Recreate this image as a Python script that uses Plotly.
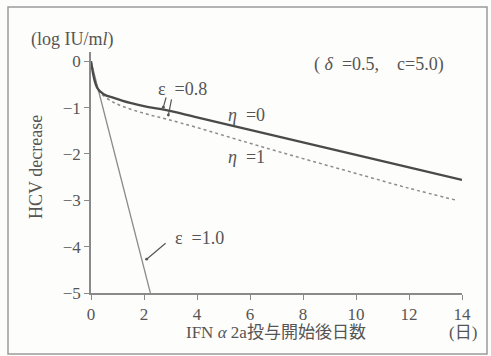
import plotly.graph_objects as go

# ---- data ----
days_eta0 = [0, 0.23, 0.48, 0.86, 1.48, 2.17, 2.8, 4, 6, 8, 10, 12, 14]
logv_eta0 = [0, -0.57, -0.71, -0.79, -0.90, -0.99, -1.05, -1.21, -1.48, -1.75, -2.02, -2.29, -2.56]

days_eta1 = [0, 0.23, 0.29, 0.86, 1.48, 2.17, 2.87, 4, 6, 8, 10, 12, 13.8]
logv_eta1 = [0, -0.57, -0.65, -0.89, -1.03, -1.15, -1.25, -1.43, -1.77, -2.10, -2.42, -2.74, -3.0]

days_eps1 = [0, 2.24]
logv_eps1 = [0, -5]

x_ticks = [0, 2, 4, 6, 8, 10, 12, 14]
y_ticks = [0, -1, -2, -3, -4, -5]
y_ticktext = ["0", "−1", "−2", "−3", "−4", "−5"]

SERIF = "Liberation Serif, DejaVu Serif, serif"
CJK = "Liberation Serif, Noto Sans CJK JP, serif"
TXT = "#555555"
AX = "#8a8a8a"
FS = 17

W, H = 491, 356
ml, mr, mt, mb = 91, 29, 52, 63

def px(xp, yp):
    return (xp - ml) / (W - ml - mr), 1 - (yp - mt) / (H - mt - mb)

fig = go.Figure()
fig.add_trace(go.Scatter(x=days_eps1, y=logv_eps1, mode="lines",
                         line=dict(color="#8c8c8c", width=1.3), showlegend=False))
fig.add_trace(go.Scatter(x=days_eta1, y=logv_eta1, mode="lines", line_shape="spline",
                         line=dict(color="#8c8c8c", width=1.5, dash="dot"), showlegend=False))
fig.add_trace(go.Scatter(x=days_eta0, y=logv_eta0, mode="lines", line_shape="spline",
                         line=dict(color="#4a4a4a", width=2.3), showlegend=False))

ann = []

def txt(x, y, s, size=18, font=SERIF):
    ann.append(dict(x=x, y=y, xref="x", yref="y", text=s, showarrow=False,
                    xanchor="center", yanchor="middle",
                    font=dict(family=font, size=size, color=TXT)))

def ptxt(xp, yp, s, size=FS, font=SERIF, angle=0):
    x, y = px(xp, yp)
    ann.append(dict(x=x, y=y, xref="paper", yref="paper", text=s, showarrow=False,
                    xanchor="center", yanchor="middle", textangle=angle,
                    font=dict(family=font, size=size, color=TXT)))

def arrow(x, y, ax, ay):
    ann.append(dict(x=x, y=y, ax=ax, ay=ay, xref="x", yref="y", axref="x", ayref="y",
                    text="", showarrow=True, arrowhead=6, arrowsize=0.6,
                    arrowwidth=1.2, arrowcolor="#555555"))

txt(3.45, -0.59, "ε  =0.8")
txt(5.85, -1.16, "<i>η</i>  =0")
txt(5.85, -2.06, "<i>η</i>  =1")
txt(10.85, -0.08, "( <i>δ</i>  =0.5,    c=5.0)")
txt(4.1, -3.81, "ε  =1.0")

arrow(2.73, -0.99, 2.85, -0.75)
arrow(2.92, -1.16, 3.05, -0.79)
arrow(2.1, -4.27, 2.87, -3.9)

ptxt(72, 40, "(log IU/m<i>l</i>)", size=18)
ptxt(36, 167, "HCV decrease", size=18, angle=-90)
ptxt(276, 332, "IFN <i>α</i> 2a投与開始後日数", font=CJK)
ptxt(463, 332, "(日)", font=CJK)

x0, y0 = px(8, 7)
x1, y1 = px(487, 354)
fig.update_layout(
    annotations=ann,
    shapes=[dict(type="rect", xref="paper", yref="paper", x0=x0, y0=y1, x1=x1, y1=y0,
                 line=dict(color="#9a9a9a", width=1.5))],
    width=W, height=H,
    margin=dict(l=ml, r=mr, t=mt, b=mb, pad=0),
    paper_bgcolor="#fdfdfc", plot_bgcolor="#fdfdfc",
    xaxis=dict(range=[0, 14], tickvals=x_ticks, ticks="outside", ticklen=5,
               tickcolor=AX, showline=True, linecolor=AX, linewidth=1.5,
               showgrid=False, zeroline=False,
               tickfont=dict(family=SERIF, size=FS, color=TXT)),
    yaxis=dict(range=[-5, 0.2], tickvals=y_ticks, ticktext=y_ticktext, ticks="outside",
               ticklen=5, tickcolor=AX, showline=True, linecolor=AX, linewidth=1.5,
               showgrid=False, zeroline=False,
               tickfont=dict(family=SERIF, size=FS, color=TXT)),
)

fig.write_html("out.html")
